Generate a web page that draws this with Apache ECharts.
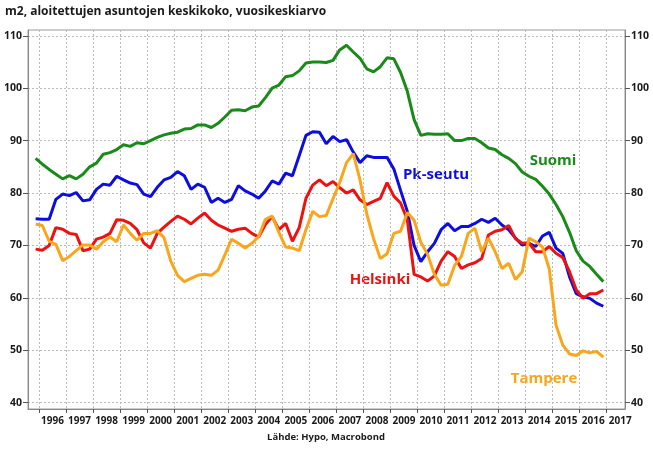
<!DOCTYPE html>
<html><head><meta charset="utf-8">
<script src="https://cdn.jsdelivr.net/npm/echarts@6/dist/echarts.min.js"></script>
<style>html,body{margin:0;padding:0;background:#fff}#c{width:653px;height:453px}</style>
</head><body><div id="c"></div>
<script>
// Quarterly data, first quarter 1995Q4, last 2016Q4
const firstYear = 1995, firstQ = 4, nQuarters = 85;
const suomi = [86.6,85.5,84.5,83.6,82.7,83.3,82.7,83.6,85.0,85.7,87.4,87.7,88.3,89.2,88.9,89.6,89.4,90.0,90.6,91.1,91.4,91.6,92.2,92.3,93.0,93.0,92.5,93.3,94.5,95.8,95.9,95.7,96.4,96.6,98.2,100.0,100.6,102.2,102.4,103.3,104.8,105.0,105.0,104.9,
105.3,107.3,108.2,106.9,105.7,103.7,103.1,104.1,105.8,105.6,103.0,99.4,94.0,91.0,91.3,91.2,91.2,91.3,90.0,90.0,90.4,90.4,89.6,88.6,88.3,87.3,86.6,85.6,84.0,83.2,82.6,81.3,79.8,77.8,75.5,72.5,69.0,67.0,66.0,64.5,63.1];
const pkseutu = [75.1,75.0,75.0,78.8,79.8,79.5,80.1,78.5,78.7,80.7,81.7,81.5,83.2,82.5,81.9,81.6,79.8,79.3,81.1,82.5,83.0,84.1,83.3,80.7,81.7,81.1,78.2,79.0,78.2,78.8,81.4,80.4,79.8,79.0,80.4,82.3,81.7,83.8,83.3,87.1,91.0,91.7,91.6,89.4,
90.8,89.8,90.2,87.8,85.8,87.1,86.8,86.8,86.8,84.6,80.5,76.5,70.0,66.9,68.8,70.4,73.0,74.2,72.8,73.6,73.6,74.2,75.0,74.4,75.2,73.9,73.0,71.4,70.1,70.4,69.8,71.8,72.5,69.5,68.5,64.0,60.8,60.2,59.9,59.0,58.4];
const helsinki = [69.3,69.1,70.0,73.4,73.1,72.3,72.1,69.0,69.3,71.2,71.6,72.3,74.9,74.8,74.2,73.0,70.5,69.5,72.3,73.5,74.6,75.6,75.0,74.1,75.2,76.2,74.8,73.9,73.3,72.7,73.1,73.3,72.3,71.6,74.0,75.5,73.0,74.2,70.8,73.4,79.0,81.5,82.5,81.4,
82.2,81.0,80.0,80.6,78.7,77.8,78.4,79.0,82.0,79.4,78.1,74.9,64.5,64.0,63.2,64.2,67.0,68.8,67.9,65.6,66.3,66.7,67.5,72.0,72.7,73.0,73.8,71.3,70.4,70.5,68.8,68.8,69.8,68.5,67.7,65.0,61.5,59.9,60.8,60.8,61.5];
const tampere = [74.1,73.8,70.8,70.2,67.1,67.9,69.0,70.1,70.1,69.3,70.7,71.6,70.7,73.9,72.3,71.0,72.3,72.3,72.8,71.5,67.0,64.3,63.1,63.7,64.3,64.5,64.3,65.3,68.2,71.2,70.4,69.5,70.4,71.7,75.0,75.6,72.5,69.7,69.5,69.0,73.0,76.5,75.5,75.7,
78.9,82.0,85.8,87.5,82.5,76.0,71.3,67.5,68.4,72.3,72.7,76.3,74.8,70.6,68.3,64.5,62.4,62.6,66.2,67.9,72.3,73.3,68.8,71.4,68.8,65.6,66.6,63.5,65.0,71.4,70.7,69.7,65.5,54.8,51.0,49.3,49.0,49.9,49.5,49.8,48.7];
const yTicks = [40,50,60,70,80,90,100,110];
const years = [1996,1997,1998,1999,2000,2001,2002,2003,2004,2005,2006,2007,2008,2009,2010,2011,2012,2013,2014,2015,2016,2017];
const seriesNames = ['Suomi','Pk-seutu','Helsinki','Tampere'];
const titleText = 'm2, aloitettujen asuntojen keskikoko, vuosikeskiarvo';
const sourceText = 'Lähde: Hypo, Macrobond';

// quarter periods -> decimal year at mid-quarter
const periods = [];
for (let i = 0; i < nQuarters; i++) {
  const q0 = (firstQ - 1) + i;
  periods.push({year: firstYear + Math.floor(q0 / 4), q: (q0 % 4) + 1});
}
const xPos = periods.map(p => p.year + (p.q - 0.5) / 4);
const pair = arr => arr.map((v, i) => [xPos[i], v]);

const colors = {'Suomi':'#1a8a1a','Pk-seutu':'#0d0de0','Helsinki':'#ee1111','Tampere':'#f9a61c'};
const FONT = '"Open Sans", "Liberation Sans", sans-serif';
const dataMap = {'Suomi':suomi,'Pk-seutu':pkseutu,'Helsinki':helsinki,'Tampere':tampere};

const chart = echarts.init(document.getElementById('c'), null, {renderer:'canvas'});
const axisLab = {fontSize:10.5, fontWeight:'bold', color:'#1a1a1a', fontFamily:FONT};
chart.setOption({
  animation:false,
  backgroundColor:'#fff',
  title:{text:titleText, left:5, top:6, padding:0, textStyle:{fontSize:12, fontWeight:'bold', color:'#1a1a1a', fontFamily:FONT}},
  grid:{left:28, right:28, top:30, bottom:44, show:true, borderColor:'#999', borderWidth:1, backgroundColor:'transparent'},
  xAxis:{type:'value', min:1995.593, max:2017.677,
    axisLine:{show:true, lineStyle:{color:'#888'}},
    axisTick:{show:true, customValues:years, length:4, lineStyle:{color:'#555'}},
    axisLabel:Object.assign({customValues:years.map(y=>y+0.5), formatter:v=>String(Math.floor(v)), margin:7}, axisLab, {fontSize:10}),
    splitLine:{show:true, lineStyle:{type:[2,2], color:'#bbb', width:1}}
  },
  yAxis:[
    {type:'value', min:38.8, max:111.1, position:'left',
     axisLine:{show:true, lineStyle:{color:'#888'}},
     axisTick:{show:true, customValues:yTicks, length:5, lineStyle:{color:'#555'}},
     axisLabel:Object.assign({customValues:yTicks, margin:6}, axisLab),
     splitLine:{show:true, lineStyle:{type:[2,2], color:'#bbb', width:1}}},
    {type:'value', min:38.8, max:111.1, position:'right',
     axisLine:{show:true, lineStyle:{color:'#888'}},
     axisTick:{show:true, customValues:yTicks, length:5, lineStyle:{color:'#555'}},
     axisLabel:Object.assign({customValues:yTicks, margin:6}, axisLab),
     splitLine:{show:false}}
  ],
  series: seriesNames.map(n => ({
    name:n, type:'line', data:pair(dataMap[n]), showSymbol:false, symbol:'none',
    lineStyle:{color:colors[n], width:3}, itemStyle:{color:colors[n]}, z:2
  })),
  graphic:[
    {type:'text', x:553, y:161, style:{text:'Suomi', fill:colors['Suomi'], font:'bold 15px '+FONT, align:'center', verticalAlign:'middle'}},
    {type:'text', x:436, y:175, style:{text:'Pk-seutu', fill:colors['Pk-seutu'], font:'bold 15px '+FONT, align:'center', verticalAlign:'middle'}},
    {type:'text', x:380, y:280, style:{text:'Helsinki', fill:colors['Helsinki'], font:'bold 15px '+FONT, align:'center', verticalAlign:'middle'}},
    {type:'text', x:544, y:379, style:{text:'Tampere', fill:colors['Tampere'], font:'bold 15px '+FONT, align:'center', verticalAlign:'middle'}},
    {type:'text', x:326, y:437, style:{text:sourceText, fill:'#1a1a1a', font:'bold 9.5px '+FONT, align:'center', verticalAlign:'middle'}}
  ]
});
</script></body></html>
